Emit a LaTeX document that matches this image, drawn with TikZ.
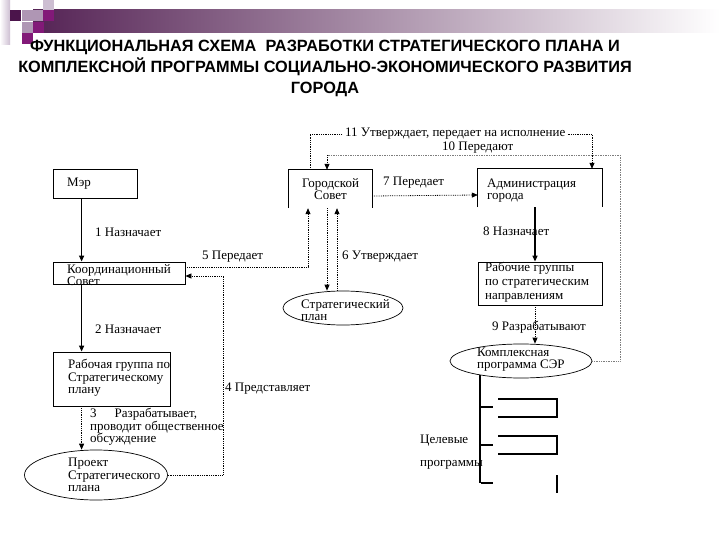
\documentclass[tikz,border=0pt]{standalone}
\usepackage{fontspec}
\setmainfont{Liberation Serif}
\newfontfamily\titlefont{Liberation Sans}
\usetikzlibrary{arrows.meta,shapes.geometric,calc,positioning}
\definecolor{hdrdark}{RGB}{75,20,75}
\definecolor{hdrbar}{RGB}{85,35,85}
\definecolor{hdrmag}{RGB}{130,25,120}
\definecolor{hdrlight}{RGB}{175,150,180}
\definecolor{hdrpale}{RGB}{205,190,210}
\definecolor{schgray}{RGB}{125,125,125}

\begin{document}
\begin{tikzpicture}[x=1pt,y=-1pt,>={Triangle[length=6pt,width=5pt]},
  box/.style={draw,line width=0.8pt,rectangle,inner sep=0pt},
  openbox/.style={rectangle,inner sep=0pt},
  oval/.style={draw,line width=0.7pt,ellipse,inner sep=0pt},
  txt/.style={font=\fontsize{13}{12.5}\selectfont,align=left,anchor=west,inner sep=0pt},
  solidarr/.style={->,line width=1.3pt},
  dotarr/.style={->,line width=0.8pt,densely dotted},
  faint/.style={line width=0.7pt,densely dotted,schgray},
  brk/.style={line width=1.3pt}]
\useasboundingbox (0,0) rectangle (720,540);
\fill[white] (0,0) rectangle (720,540);

% header
\shade[left color=hdrbar,right color=white] (33,10) rectangle (720,33);
\shade[left color=white,right color=hdrpale] (0,0) rectangle (10,45);
\foreach \x/\y/\c in {10/10/hdrdark,22/10/hdrlight,33/10/hdrlight,43/0/hdrpale,
                      43/10/hdrmag,22/22/hdrlight,33/22/hdrmag,22/33/hdrmag}
  \fill[\c] (\x,\y) rectangle ++(11,11);

\node[font=\titlefont\bfseries\fontsize{16.3}{21}\selectfont,align=center] (title) at (325,68)
  {ФУНКЦИОНАЛЬНАЯ СХЕМА\ \ РАЗРАБОТКИ СТРАТЕГИЧЕСКОГО ПЛАНА И\\
   КОМПЛЕКСНОЙ ПРОГРАММЫ СОЦИАЛЬНО-ЭКОНОМИЧЕСКОГО РАЗВИТИЯ\\ГОРОДА};

% shapes
\node[box,minimum width=84pt,minimum height=29pt] (mayor) at (95,183.5) {};
\node[box,minimum width=132pt,minimum height=22pt] (kc) at (119,273) {};
\node[box,minimum width=117pt,minimum height=54pt] (rg) at (111.5,379) {};
\node[oval,minimum width=143pt,minimum height=50pt] (proj) at (96,475) {};
\node[openbox,minimum width=83pt,minimum height=38pt,font=\fontsize{13}{12.5}\selectfont,align=center]
  (gs) at (330.5,189) {Городской\\Совет};
\node[openbox,minimum width=124pt,minimum height=38pt] (adm) at (540,188) {};
\node[box,minimum width=124pt,minimum height=43pt] (rgs) at (540,283.5) {};
\node[oval,minimum width=120pt,minimum height=34pt] (sp) at (343,308) {};
\node[oval,minimum width=142pt,minimum height=34pt] (kp) at (521,361) {};
\foreach \n in {gs,adm}
  \draw[line width=0.8pt] (\n.south west) -- (\n.north west) -- (\n.north east) -- (\n.south east);

% texts
\node[txt] (mayort) at (67,184) {Мэр};
\node[txt] (kct) at (67,275) {Координационный\\Совет};
\node[txt] (rgt) at (68,378) {Рабочая группа по\\Стратегическому\\плану};
\node[txt] (projt) at (68,475) {Проект\\Стратегического\\плана};
\node[txt] (spt) at (301,310) {Стратегический\\план};
\node[txt] (admt) at (487,190.5) {Администрация\\города};
\node[txt,font=\fontsize{13}{14}\selectfont] (rgst) at (485,282) {Рабочие группы\\по стратегическим\\направлениям};
\node[txt] (kpt) at (477,359.5) {Комплексная\\программа СЭР};
\node[txt,font=\fontsize{13}{23.5}\selectfont] (goals) at (420,452) {Целевые\\программы};

% links
\draw[solidarr] ([xshift=29pt]mayor.south west) -- ([xshift=29pt]kc.north west);
\draw[solidarr] ([xshift=29pt]kc.south west) -- ([xshift=29pt]rg.north west);
\draw[dotarr] ([xshift=29pt]rg.south west) -- ([xshift=29pt]rg.south west |- proj.north);
\coordinate (c4) at (223,276);
\draw[dotarr] (proj.east) -| (c4) -- (kc.east |- c4);
\coordinate (c5) at (308,267);
\draw[dotarr] (kc.east |- c5) -- (c5) -- (c5 |- gs.south);
\draw[dotarr] ([xshift=-3.5pt]gs.south) -- ([xshift=-3.5pt]gs.south |- sp.north);
\draw[dotarr] ([xshift=6.5pt]gs.south |- sp.north) -- ([xshift=6.5pt]gs.south);
\draw[dotarr] ([yshift=-7pt]gs.east) -- ([yshift=-7pt]adm.west);
\draw[solidarr] ([xshift=-5pt]adm.south) -- ([xshift=-5pt]rgs.north);
\draw[dotarr] ([xshift=-5pt]rgs.south) -- ([xshift=-5pt]rgs.south |- kp.north);
\coordinate (c10) at (620,155);
\draw[faint] (kp.east) -- (kp.east -| c10) -- (c10) -- ([xshift=-3.5pt]gs.north |- c10);
\draw[dotarr] ([xshift=-3.5pt]gs.north |- c10) -- ([xshift=-3.5pt]gs.north);
\coordinate (c11) at (310,134);
\draw[dotarr] ([xshift=-20.5pt]gs.north) -- ([xshift=-20.5pt]gs.north |- c11)
  -- ([xshift=52pt]adm.north |- c11) -- ([xshift=52pt]adm.north);

% labels
\node[txt] (l1) at (95,232) {1 Назначает};
\node[txt] (l2) at (95,329) {2 Назначает};
\node[txt] (l3) at (90,427) {3\hspace{18pt}Разрабатывает,\\проводит общественное\\обсуждение};
\node[txt] (l4) at (225,389) {4 Представляет};
\node[txt] (l5) at (202,257) {5 Передает};
\node[txt] (l6) at (342,257) {6 Утверждает};
\node[txt] (l7) at (383,183) {7 Передает};
\node[txt] (l8) at (483,231) {8 Назначает};
\node[txt] (l9) at (492,327) {9 Разрабатывают};
\node[txt] (l10) at (442,147.5) {10 Передают};
\node[txt,fill=white,inner xsep=2pt,inner ysep=0pt] (l11) at (343,133.5) {11 Утверждает, передает на исполнение};

% target programmes
\coordinate (cb) at (481,483);
\draw[brk] (kp.199) -- (kp.199 |- cb);
\foreach \y in {407,445,483}
  \draw[brk] (481,\y) -- (493,\y);
\foreach \t/\b in {399/417,436/454}
  \draw[brk] (498,\t) -- (557,\t) -- (557,\b) -- (498,\b);
\draw[brk] (557,475) -- (557,493);
\end{tikzpicture}
\end{document}
